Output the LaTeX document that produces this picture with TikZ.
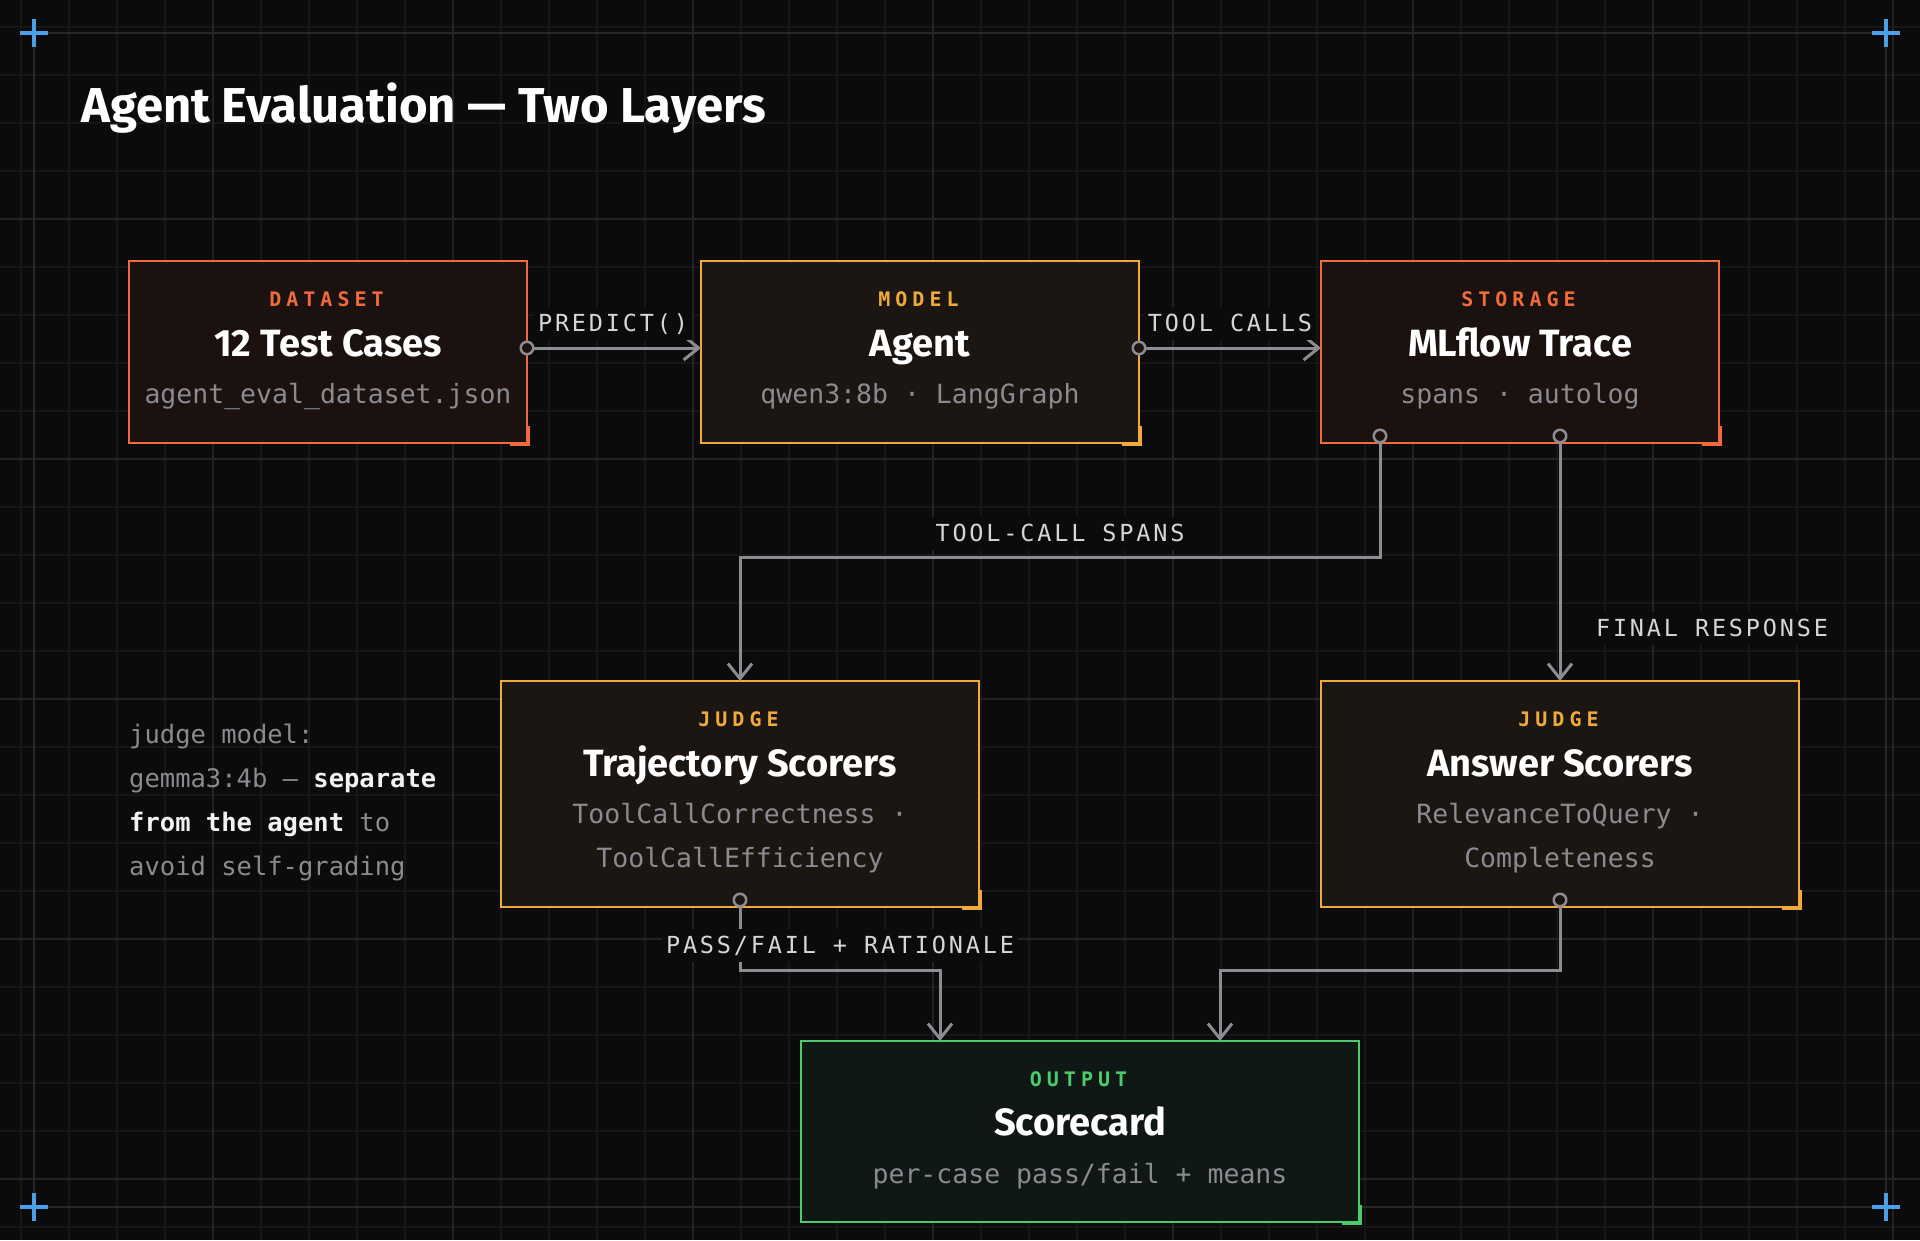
\documentclass[tikz,border=0pt]{standalone}
\usepackage{fontspec}
\setmainfont{Fira Sans}
\newfontfamily\monof{DejaVu Sans Mono}
\newfontfamily\tagf{DejaVu Sans Mono}[LetterSpace=25]
\newfontfamily\clabf{DejaVu Sans Mono}[LetterSpace=12]
\usetikzlibrary{arrows.meta,calc}
\definecolor{bg}{HTML}{0B0B0B}
\definecolor{gridminor}{HTML}{161616}
\definecolor{gridmajor}{HTML}{232323}
\definecolor{framec}{HTML}{282828}
\definecolor{crossc}{HTML}{4A9FE6}
\definecolor{orangec}{HTML}{F06A3C}
\definecolor{amberc}{HTML}{F0AA3C}
\definecolor{greenc}{HTML}{4CCB6C}
\definecolor{fillred}{HTML}{1B1210}
\definecolor{fillamber}{HTML}{1B1612}
\definecolor{fillgreen}{HTML}{0F1814}
\definecolor{subgray}{HTML}{8A8A90}
\definecolor{conngray}{HTML}{8C8C92}
\definecolor{labgray}{HTML}{D6D6DA}
\definecolor{notewhite}{HTML}{F2F2F2}
\newcommand\cornermark[2]{\draw[line width=4pt,#2] ($(#1.south east)+(1,-17)$) -- ($(#1.south east)+(1,1)$) -- ($(#1.south east)+(-17,1)$);}
\tikzset{
  box/.style={draw, line width=2pt, inner sep=0pt, outer sep=0pt},
  tagtext/.style={anchor=base, inner sep=0pt, xshift=-1.5pt, font=\tagf\bfseries\fontsize{20}{20}\selectfont},
  ttl/.style={anchor=base, inner sep=0pt, text=white, font=\bfseries\fontsize{38}{38}\selectfont},
  subt/.style={anchor=base, inner sep=0pt, text=subgray, font=\monof\fontsize{26.5}{26.5}\selectfont},
  conn/.style={draw=conngray, line width=3pt},
  arr/.style={conn, -{Straight Barb[length=15pt,width=24pt]}},
  dot/.style={circle, draw=conngray, line width=2.5pt, minimum size=12.5pt, inner sep=0pt, outer sep=0pt},
  clab/.style={fill=bg, text=labgray, font=\clabf\fontsize{23.5}{23.5}\selectfont, text height=17pt, text depth=0pt, inner xsep=4pt, inner ysep=8pt},
  note/.style={anchor=base west, inner sep=0pt, text=subgray, font=\monof\fontsize{25.5}{25.5}\selectfont},
}
\begin{document}
\begin{tikzpicture}[x=1pt,y=-1pt]
\useasboundingbox (0,0) rectangle (1920,1240);
\fill[bg] (0,0) rectangle (1920,1240);
% grid
\foreach \i in {0,...,39} \draw[gridminor, line width=1.5pt] ({21+48*\i},0) -- ({21+48*\i},1240);
\foreach \j in {0,...,25} \draw[gridminor, line width=1.5pt] (0,{27+48*\j}) -- (1920,{27+48*\j});
\foreach \i in {0,...,7} \draw[gridmajor, line width=2pt] ({213+240*\i},0) -- ({213+240*\i},1240);
\foreach \j in {0,...,4} \draw[gridmajor, line width=2pt] (0,{219+240*\j}) -- (1920,{219+240*\j});
\draw[framec, line width=2pt] (34,33) rectangle (1886,1207);
\foreach \cx/\cy in {34/33, 1886/33, 34/1207, 1886/1207} {
  \draw[crossc, line width=4pt] ({\cx-14},\cy) -- ({\cx+14},\cy);
  \draw[crossc, line width=4pt] (\cx,{\cy-14}) -- (\cx,{\cy+14});
}
% title
\node[anchor=base west, inner sep=0pt, text=white, font=\bfseries\fontsize{49}{49}\selectfont] (title) at (81,122) {Agent Evaluation — Two Layers};
% boxes
\node[box, draw=orangec, fill=fillred, minimum width=398pt, minimum height=182pt] (ds) at (328,352) {};
\node[box, draw=amberc, fill=fillamber, minimum width=438pt, minimum height=182pt] (md) at (920,352) {};
\node[box, draw=orangec, fill=fillred, minimum width=398pt, minimum height=182pt] (st) at (1520,352) {};
\node[box, draw=amberc, fill=fillamber, minimum width=478pt, minimum height=226pt] (tj) at (740,794) {};
\node[box, draw=amberc, fill=fillamber, minimum width=478pt, minimum height=226pt] (ab) at (1560,794) {};
\node[box, draw=greenc, fill=fillgreen, minimum width=558pt, minimum height=181pt] (sc) at (1080,1131.5) {};
\cornermark{ds}{orangec}
\cornermark{md}{amberc}
\cornermark{st}{orangec}
\cornermark{tj}{amberc}
\cornermark{ab}{amberc}
\cornermark{sc}{greenc}
% box texts
\node[tagtext, text=orangec] (dsT) at (328,306) {DATASET};
\node[ttl] (dsN) at (328,356) {12 Test Cases};
\node[subt] (dsS) at (328,403) {agent\_eval\_dataset.json};
\node[tagtext, text=amberc] (mdT) at (920,306) {MODEL};
\node[ttl] (mdN) at (920,356) {Agent};
\node[subt] (mdS) at (920,403) {qwen3:8b · LangGraph};
\node[tagtext, text=orangec] (stT) at (1520,306) {STORAGE};
\node[ttl] (stN) at (1520,356) {MLflow Trace};
\node[subt] (stS) at (1520,403) {spans · autolog};
\node[tagtext, text=amberc] (tjT) at (740,726) {JUDGE};
\node[ttl] (tjN) at (740,776) {Trajectory Scorers};
\node[subt] (tjS1) at (740,823) {ToolCallCorrectness ·};
\node[subt] (tjS2) at (740,867) {ToolCallEfficiency};
\node[tagtext, text=amberc] (abT) at (1560,726) {JUDGE};
\node[ttl] (abN) at (1560,776) {Answer Scorers};
\node[subt] (abS1) at (1560,823) {RelevanceToQuery ·};
\node[subt] (abS2) at (1560,867) {Completeness};
\node[tagtext, text=greenc] (scT) at (1080,1086) {OUTPUT};
\node[ttl] (scN) at (1080,1135) {Scorecard};
\node[subt] (scS) at (1080,1183) {per-case pass/fail + means};
% dots
\node[dot, fill=fillred] (d1) at (527,348) {};
\node[dot, fill=fillamber] (d2) at (1139,348) {};
\node[dot, fill=fillred] (d3) at (1380,436) {};
\node[dot, fill=fillred] (d4) at (1560,436) {};
\node[dot, fill=fillamber] (d5) at (740,900) {};
\node[dot, fill=fillamber] (d6) at (1560,900) {};
% connectors
\coordinate (k3) at (1380,557);
\coordinate (k3b) at (740,557);
\coordinate (k5) at (740,970);
\coordinate (k5b) at (940,970);
\coordinate (k6) at (1560,970);
\coordinate (k6b) at (1220,970);
\draw[arr] (d1.east) -- (md.west |- d1);
\draw[arr] (d2.east) -- (st.west |- d2);
\draw[arr] (d3.south) -- (k3) -- (k3b) -- (tj.north);
\draw[arr] (d4.south) -- (ab.north);
\draw[arr] (d5.south) -- (k5) -- (k5b) -- (k5b |- sc.north);
\draw[arr] (d6.south) -- (k6) -- (k6b) -- (k6b |- sc.north);
% connector labels
\node[clab] (l1) at (613,323) {PREDICT()};
\node[clab] (l2) at (1230,323) {TOOL CALLS};
\node[clab] (l3) at (1060,533) {TOOL-CALL SPANS};
\node[clab] (l4) at (1712,628) {FINAL RESPONSE};
\node[clab] (l5) at (840,945) {PASS/FAIL + RATIONALE};
% side note
\node[note] (n1) at (129,743) {judge model:};
\node[note] (n2) at (129,787) {gemma3:4b — {\bfseries\color{notewhite}separate}};
\node[note] (n3) at (129,831) {{\bfseries\color{notewhite}from the agent} to};
\node[note] (n4) at (129,875) {avoid self-grading};
\end{tikzpicture}
\end{document}
